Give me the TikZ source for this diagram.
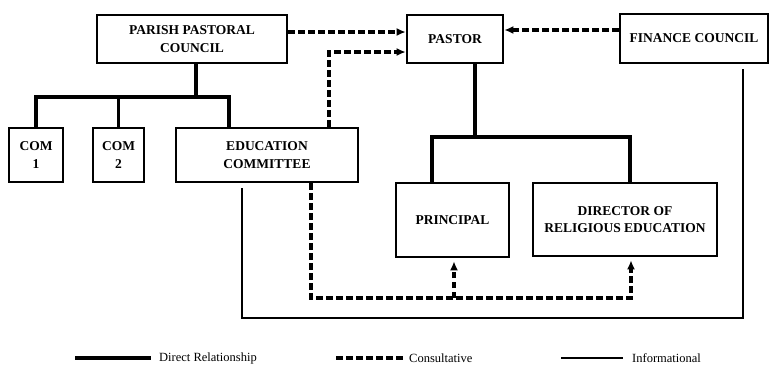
\documentclass[tikz,border=0pt]{standalone}
\usepackage{fontspec}
\setmainfont{Liberation Serif}
\usetikzlibrary{arrows.meta,calc}
\tikzset{
  orgbox/.style={draw, line width=2.6pt, inner sep=0pt, align=center,
    font=\fontsize{13.5}{17.5}\selectfont\bfseries},
  direct/.style={line width=3.6pt},
  consult/.style={line width=3.2pt, dash pattern=on 6.5pt off 3.5pt},
  consultarrow/.style={consult, -{Latex[length=9pt,width=8pt]}},
  inform/.style={line width=1.4pt},
  legendtext/.style={anchor=west, inner sep=0pt, font=\fontsize{12.5}{15}\selectfont}
}
\begin{document}
\begin{tikzpicture}[x=1pt,y=-1pt]
\useasboundingbox (0,0) rectangle (771,368);
% boxes
\node[orgbox, minimum width=190pt, minimum height=48pt] (ppc) at (192,39) {PARISH PASTORAL\\COUNCIL};
\node[orgbox, minimum width=96pt, minimum height=48pt] (pastor) at (455,39) {PASTOR};
\node[orgbox, minimum width=148pt, minimum height=49pt] (fin) at (694,38.5) {FINANCE COUNCIL};
\node[orgbox, minimum width=54pt, minimum height=54pt] (com1) at (36,155) {COM\\1};
\node[orgbox, minimum width=51pt, minimum height=54pt] (com2) at (118.5,155) {COM\\2};
\node[orgbox, minimum width=182pt, minimum height=54pt] (edu) at (267,155) {EDUCATION\\COMMITTEE};
\node[orgbox, minimum width=113pt, minimum height=74pt] (prin) at (452.5,220) {PRINCIPAL};
\node[orgbox, minimum width=184pt, minimum height=73pt] (dre) at (625,219.5) {DIRECTOR OF\\RELIGIOUS EDUCATION};

% helper coordinates
\coordinate (ppcbar) at (196,97);
\coordinate (edudrop) at (229,97);
\coordinate (pbar) at (475,137);
\coordinate (prindrop) at (432,137);
\coordinate (dredrop) at (630,137);
\coordinate (cbot) at (311,298);
\coordinate (pc) at (454,298);
\coordinate (dc) at (631,298);
\coordinate (ibl) at (242,318);
\coordinate (ibr) at (743,318);

% direct relationships
\draw[direct] (ppc.south -| ppcbar) -- (ppcbar);
\draw[direct] (com1.north) |- (ppcbar) -| (edu.north -| edudrop);
\draw[direct] (com2.north) -- (com2.north |- ppcbar);
\draw[direct] (pastor.south -| pbar) -- (pbar);
\draw[direct] (prin.north -| prindrop) |- (pbar) -| (dre.north -| dredrop);

% consultative
\draw[consultarrow] (ppc.east |- 0,32) -- (pastor.west |- 0,32);
\draw[consultarrow] (edu.north -| 329,0) |- (pastor.west |- 0,52);
\draw[consultarrow] (fin.west |- 0,30) -- (pastor.east |- 0,30);
\draw[consultarrow, shorten >=3pt] (edu.south -| cbot) |- (dc) -- (dre.south -| dc);
\draw[consultarrow, shorten >=3pt] (pc) -- (prin.south -| pc);

% informational
\draw[inform, shorten <=5pt, shorten >=5pt] (edu.south -| ibl) |- (ibr) -- (fin.south -| ibr);

% legend
\coordinate (l1a) at (75,358); \coordinate (l1b) at (151,358);
\coordinate (l2a) at (336,358); \coordinate (l2b) at (403,358);
\coordinate (l3a) at (561,358); \coordinate (l3b) at (623,358);
\draw[direct] (l1a) -- (l1b);
\draw[consult] (l2a) -- (l2b);
\draw[inform] (l3a) -- (l3b);
\node[legendtext] (t1) at (159,358) {Direct Relationship};
\node[legendtext] (t2) at (409,358) {Consultative};
\node[legendtext] (t3) at (632,358) {Informational};
\end{tikzpicture}
\end{document}
